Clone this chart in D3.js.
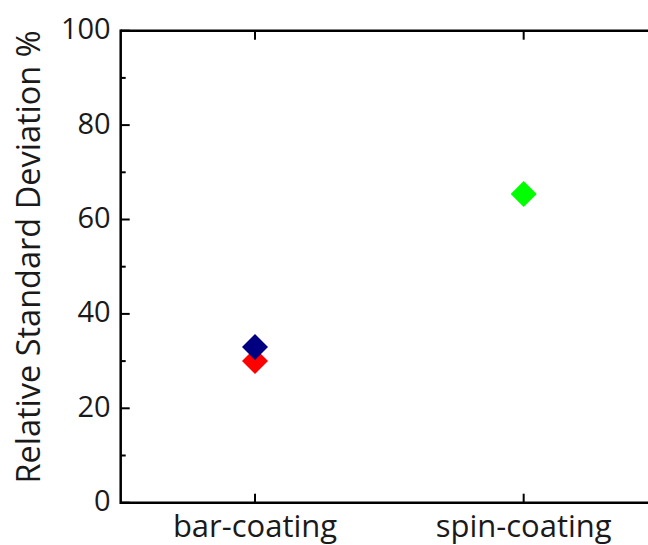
<!DOCTYPE html>
<html>
<head>
<meta charset="utf-8">
<script src="https://cdn.jsdelivr.net/npm/d3@7"></script>
<style>
  html, body { margin: 0; padding: 0; background: #fff; overflow: hidden; }
  svg { display: block; overflow: hidden; }
  text { font-family: "Open Sans", "Noto Sans", sans-serif; fill: #1a1a1a; }
</style>
</head>
<body>
<script>
// Categories on the x axis
const categories = ["bar-coating", "spin-coating"];
// Individual measurements per series (relative standard deviation, %)
const seriesRed   = [{ cat: "bar-coating", value: 30 }];
const seriesNavy  = [{ cat: "bar-coating", value: 33 }];
const seriesGreen = [{ cat: "spin-coating", value: 65.4 }];
const yTicks = [0, 20, 40, 60, 80, 100];
const yMinorTicks = [10, 30, 50, 70, 90];
const yLabel = "Relative Standard Deviation %";

const W = 648, H = 545;
const margin = { left: 120.7, top: 30.7, right: 658, bottom: 502.7 };

const svg = d3.select("body").append("svg")
  .attr("width", W).attr("height", H);

const x = d3.scaleLinear().domain([0.5, categories.length + 0.5])
  .range([margin.left, margin.right]);
const y = d3.scaleLinear().domain([0, 100])
  .range([margin.bottom, margin.top]);
const xPos = c => x(categories.indexOf(c) + 1);

const axisStroke = 2.5;

// Frame: left, bottom and top edges (the right edge falls past the canvas)
const frame = svg.append("g").attr("stroke", "#000").attr("stroke-width", axisStroke).attr("fill", "none");
frame.append("line").attr("x1", margin.left).attr("x2", margin.left).attr("y1", margin.top - 1.2).attr("y2", margin.bottom + 1.2);
frame.append("line").attr("x1", margin.left).attr("x2", W).attr("y1", margin.bottom).attr("y2", margin.bottom);
frame.append("line").attr("x1", margin.left).attr("x2", W).attr("y1", margin.top).attr("y2", margin.top);

// Y ticks, pointing inward
const tickG = svg.append("g").attr("stroke", "#000").attr("stroke-width", 2);
yTicks.forEach(v => {
  tickG.append("line").attr("x1", margin.left).attr("x2", margin.left + 9)
    .attr("y1", y(v)).attr("y2", y(v));
});
yMinorTicks.forEach(v => {
  tickG.append("line").attr("x1", margin.left).attr("x2", margin.left + 5)
    .attr("y1", y(v)).attr("y2", y(v));
});
// X ticks on bottom and top, pointing inward
categories.forEach((c, i) => {
  const px = x(i + 1);
  tickG.append("line").attr("x1", px).attr("x2", px).attr("y1", margin.bottom).attr("y2", margin.bottom - 9);
  tickG.append("line").attr("x1", px).attr("x2", px).attr("y1", margin.top).attr("y2", margin.top + 9);
});

// Tick labels
svg.append("g").selectAll("text").data(yTicks).join("text")
  .attr("x", margin.left - 10)
  .attr("y", d => y(d) - 2)
  .attr("dy", "0.36em")
  .attr("text-anchor", "end")
  .style("font-size", "29px")
  .text(d => d);

svg.append("g").selectAll("text").data(categories).join("text")
  .attr("x", (d, i) => x(i + 1))
  .attr("y", 537)
  .attr("text-anchor", "middle")
  .style("font-size", "31px")
  .text(d => d);

// Y axis title
svg.append("text")
  .attr("transform", "translate(40, 257) rotate(-90)")
  .attr("text-anchor", "middle")
  .style("font-size", "32.5px")
  .text(yLabel);

// Diamond markers
const half = 13;
const diamond = d3.symbol().type(d3.symbolSquare).size((half * Math.SQRT2) ** 2);
function drawSeries(data, color) {
  svg.append("g").selectAll("path").data(data).join("path")
    .attr("d", diamond)
    .attr("transform", d => `translate(${xPos(d.cat)}, ${y(d.value)}) rotate(45)`)
    .attr("fill", color);
}
drawSeries(seriesRed, "#ff0000");
drawSeries(seriesNavy, "#000080");
drawSeries(seriesGreen, "#00ff00");
</script>
</body>
</html>
